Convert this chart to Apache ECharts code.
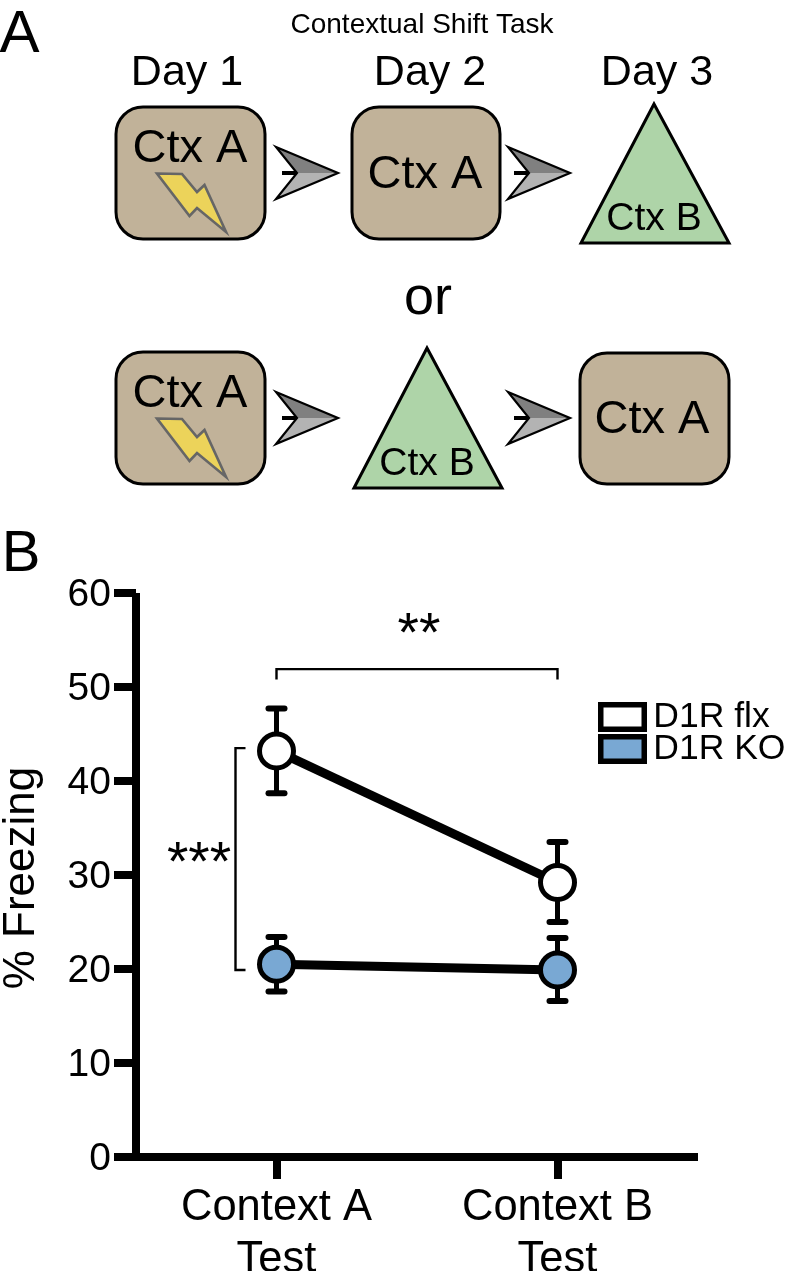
<!DOCTYPE html>
<html><head><meta charset="utf-8">
<style>html,body{margin:0;padding:0;background:#fff}#c{width:785px;height:1271px}</style>
<script src="https://cdn.jsdelivr.net/npm/echarts@6/dist/echarts.min.js"></script>
</head><body><div id="c"></div>
<script>
const categories = ['Context A\nTest', 'Context B\nTest'];
const yTicks = [0, 60, 10];
const flxMean = [43.2, 29.2];
const flxHigh = [47.7, 33.5];
const flxLow = [38.7, 25.0];
const koMean = [20.5, 19.9];
const koHigh = [23.4, 23.3];
const koLow = [17.6, 16.6];
const bracketTop = [51.9, 50.8];
const bracketSide = [43.5, 19.9];

const FONT = '"Liberation Sans", Arial, sans-serif';
const TAN = '#c1b299', GREEN = '#aed4a8';

function txt(s, x, y, size) {
  return {type:'text', z:10, style:{text:s, x, y, font:size+'px '+FONT, fill:'#000', textAlign:'center', textVerticalAlign:'middle'}};
}
function box(x0, y0, x1, y1) {
  return {type:'rect', shape:{x:x0, y:y0, width:x1-x0, height:y1-y0, r:27}, style:{fill:TAN, stroke:'#000', lineWidth:3}};
}
function tri(ax, ay, x0, x1, by) {
  return {type:'polygon', shape:{points:[[ax,ay],[x1,by],[x0,by]]}, style:{fill:GREEN, stroke:'#000', lineWidth:3, lineJoin:'miter'}};
}
function bolt(dy) {
  const p = [[157,173.5],[182,174],[197,192],[204.5,185],[226,232],[197,208],[189.5,216]];
  return {type:'polygon', shape:{points:p.map(q=>[q[0],q[1]+dy])}, style:{fill:'#ecd35a', stroke:'#666', lineWidth:2.6, lineJoin:'miter'}};
}
function arrow(x, y) {
  return [
    {type:'polygon', shape:{points:[[x,y-26],[x+62,y],[x+21,y]]}, style:{fill:'#808080'}},
    {type:'polygon', shape:{points:[[x,y+26],[x+62,y],[x+21,y]]}, style:{fill:'#b3b3b3'}},
    {type:'polygon', shape:{points:[[x,y-26],[x+62,y],[x,y+26],[x+21,y]]}, style:{fill:'none', stroke:'#000', lineWidth:2.2, lineJoin:'miter'}},
    {type:'line', shape:{x1:x+6, y1:y, x2:x+21, y2:y}, style:{stroke:'#000', lineWidth:4}}
  ];
}
const diagram = [
  txt('Contextual Shift Task', 422, 25, 28),
  txt('A', 19.5, 35, 60),
  txt('B', 21, 555, 58),
  txt('Day 1', 187, 73, 43),
  txt('Day 2', 430, 73, 43),
  txt('Day 3', 657, 73, 43),
  box(116,107,265,239), bolt(0), txt('Ctx A', 190, 149, 47),
  box(352,107,500,239), txt('Ctx A', 425, 175, 47),
  tri(654,104,581,729,243), txt('Ctx B', 654, 219, 39),
  txt('or', 428, 299, 54),
  box(116,352,265,484), bolt(245), txt('Ctx A', 190, 394, 47),
  tri(427,348,354,502,488), txt('Ctx B', 427, 464, 39),
  box(580,353,729,484), txt('Ctx A', 652, 420, 47),
  ...arrow(276,173), ...arrow(508,173), ...arrow(276,418), ...arrow(508,418)
];

function errorItem(high, low) {
  return function (params, api) {
    const i = params.dataIndex;
    const t = api.coord([i, high[i]]), b = api.coord([i, low[i]]);
    const ln = (x1,y1,x2,y2,w) => ({type:'line', shape:{x1,y1,x2,y2}, style:{stroke:'#000', lineWidth:w, lineCap:'round'}});
    return {type:'group', children:[
      ln(t[0],t[1],b[0],b[1],5),
      ln(t[0]-8,t[1],t[0]+8,t[1],6),
      ln(b[0]-8,b[1],b[0]+8,b[1],6)
    ]};
  };
}
function errorSeries(high, low) {
  return {type:'custom', z:2, silent:true, renderItem:errorItem(high, low), data:categories.map((c,i)=>i), encode:{x:0}};
}
function annotations(params, api) {
  const a0 = api.coord([0, bracketTop[0]]), a1 = api.coord([1, bracketTop[0]]);
  const tipY = api.coord([0, bracketTop[1]])[1];
  const s0 = api.coord([0, bracketSide[0]]), s1 = api.coord([0, bracketSide[1]]);
  const sx = s0[0] - 41;
  const path = (pts,w) => ({type:'polyline', shape:{points:pts}, style:{fill:'none', stroke:'#000', lineWidth:w, lineJoin:'miter'}});
  const star = (s,x,y) => ({type:'text', style:{text:s, x, y, font:'55px '+FONT, fill:'#000', textAlign:'center', textVerticalAlign:'middle'}});
  return {type:'group', children:[
    path([[a0[0],tipY],[a0[0],a0[1]],[a1[0],a1[1]],[a1[0],tipY]],2.4),
    path([[sx+10,s0[1]],[sx,s0[1]],[sx,s1[1]],[sx+10,s1[1]]],2.4),
    star('**', (a0[0]+a1[0])/2 + 2, 636),
    star('***', 199, 865)
  ]};
}

const chart = echarts.init(document.getElementById('c'), null, {renderer:'canvas'});
chart.setOption({
  animation:false,
  backgroundColor:'#fff',
  textStyle:{fontFamily:FONT, color:'#000'},
  grid:{left:136, right:87, top:593, bottom:114, containLabel:false, outerBoundsMode:'none'},
  legend:{
    left:598, top:695, padding:0, orient:'vertical', itemGap:-12, itemWidth:43.5, itemHeight:24.5, icon:'rect',
    selectedMode:false,
    data:[{name:'D1R flx', itemStyle:{color:'#fff', borderColor:'#000', borderWidth:5.5}},
          {name:'D1R KO', itemStyle:{color:'#79a8d3', borderColor:'#000', borderWidth:5.5}}],
    textStyle:{fontSize:35.5, lineHeight:30, color:'#000', fontFamily:FONT, padding:[14,0,0,4]}
  },
  xAxis:{type:'category', data:categories, boundaryGap:true,
    axisLine:{lineStyle:{color:'#000', width:8, cap:'butt'}},
    axisTick:{show:true, alignWithLabel:true, length:22, lineStyle:{color:'#000', width:8}},
    axisLabel:{color:'#000', fontSize:43.5, lineHeight:52, margin:25, fontFamily:FONT},
    splitLine:{show:false}},
  yAxis:{type:'value', min:yTicks[0], max:yTicks[1], interval:yTicks[2],
    name:'% Freezing', nameLocation:'middle', nameRotate:90, nameGap:92,
    nameTextStyle:{fontSize:44, color:'#000', fontFamily:FONT, padding:[0,6,0,0]},
    axisLine:{show:true, lineStyle:{color:'#000', width:8, cap:'butt'}},
    axisTick:{show:true, length:22, lineStyle:{color:'#000', width:8}},
    axisLabel:{color:'#000', fontSize:39, margin:25, fontFamily:FONT, verticalAlign:'top', lineHeight:5},
    splitLine:{show:false}},
  graphic:{elements:diagram},
  series:[
    errorSeries(flxHigh, flxLow),
    errorSeries(koHigh, koLow),
    {name:'D1R flx', type:'line', z:3, data:flxMean, symbol:'circle', symbolSize:34,
      lineStyle:{color:'#000', width:9}, itemStyle:{color:'#fff', borderColor:'#000', borderWidth:5, opacity:1}},
    {name:'D1R KO', type:'line', z:3, data:koMean, symbol:'circle', symbolSize:34,
      lineStyle:{color:'#000', width:9}, itemStyle:{color:'#79a8d3', borderColor:'#000', borderWidth:5, opacity:1}},
    {type:'custom', z:1, silent:true, renderItem:annotations, data:[0], encode:{x:0}}
  ]
});
</script></body></html>
